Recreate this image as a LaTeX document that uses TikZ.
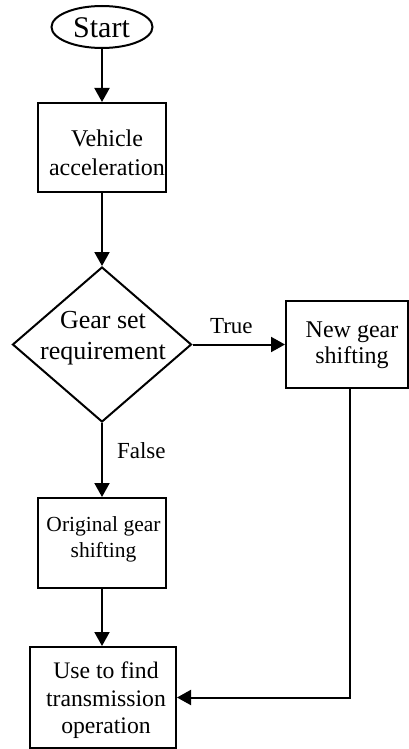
\documentclass[tikz,border=0pt]{standalone}
\usepackage{fontspec}
\setmainfont{Liberation Serif}
\usetikzlibrary{shapes.geometric,arrows.meta}

\begin{document}
\begin{tikzpicture}[x=1pt, y=-1pt, line width=2pt,
  box/.style={draw, rectangle, inner sep=0pt},
  txt/.style={align=center, inner sep=0pt},
  flow/.style={-{Triangle[length=14pt,width=15pt]}},
  lbl/.style={inner sep=0pt, font=\fontsize{23}{26}\selectfont}]
\useasboundingbox (0,0) rectangle (409,749);

% start terminal
\node[draw, ellipse, minimum width=101pt, minimum height=42pt, inner sep=0pt] (start) at (102,27) {};
\node[txt, font=\fontsize{30}{32}\selectfont] (starttxt) at (101.5,28) {Start};

% vehicle acceleration
\node[box, minimum width=128pt, minimum height=89pt] (veh) at (102,147.5) {};
\node[txt, font=\fontsize{24}{29}\selectfont] (vehtxt) at (107,152.5) {Vehicle\\acceleration};

% decision
\node[draw, diamond, minimum width=179pt, minimum height=155pt, inner sep=0pt] (dec) at (102,344.5) {};
\node[txt, font=\fontsize{26}{31}\selectfont] (dectxt) at (103,338) {Gear set\\requirement};

% new gear shifting
\node[box, minimum width=122pt, minimum height=87pt] (newg) at (347,344.5) {};
\node[txt, font=\fontsize{24}{26}\selectfont] (newgtxt) at (352,345) {New gear\\shifting};

% original gear shifting
\node[box, minimum width=128pt, minimum height=90pt] (orig) at (102,543) {};
\node[txt, font=\fontsize{21.5}{26}\selectfont] (origtxt) at (103.5,539) {Original gear\\shifting};

% transmission operation
\node[box, minimum width=146pt, minimum height=101pt] (final) at (103,697.5) {};
\node[txt, font=\fontsize{23.7}{27.5}\selectfont] (finaltxt) at (106,700.5) {Use to find\\transmission\\operation};

% connectors
\draw[flow] (start.south) -- (veh.north);
\draw[flow] (veh.south) -- (dec.north);
\draw[flow] (dec.east) -- (newg.west) node[lbl, pos=0.42, above=10pt] (truelbl) {True};
\draw[flow] (dec.south) -- (orig.north) node[lbl, pos=0.37, right=14pt] (falselbl) {False};
\draw[flow] (orig.south) -- (orig.south |- final.north);
\coordinate (turn) at (350,697);
\draw[flow] (newg.south -| turn) |- (final.east);
\end{tikzpicture}
\end{document}
